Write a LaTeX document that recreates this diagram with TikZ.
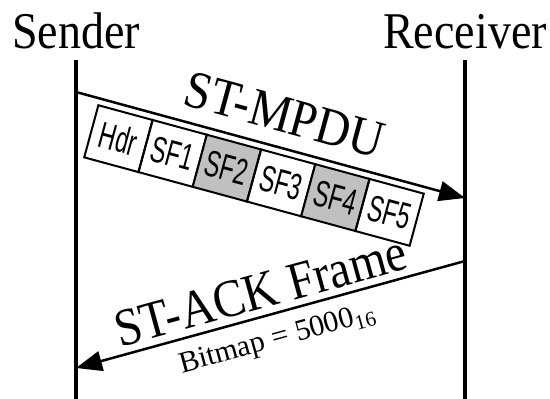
\documentclass[tikz,border=0pt]{standalone}
\usepackage{fontspec}
\usepackage{graphicx}
\setmainfont{Liberation Serif}
\newfontfamily\cellfont{Liberation Sans}
\usetikzlibrary{arrows.meta}
\definecolor{cellgray}{RGB}{192,192,192}
\newcommand{\tall}[1]{\scalebox{1}[1.12]{#1}}
\newcommand{\narrow}[1]{\scalebox{0.63}[1]{#1}}
\begin{document}
\begin{tikzpicture}[x=1pt,y=-1pt,
  lifeline/.style={line width=3.5pt},
  msg/.style={line width=2.5pt,-{Triangle[length=26pt,width=20pt]}},
  lbl/.style={font=\fontsize{46}{46}\selectfont, inner sep=0pt},
  mlbl/.style={font=\fontsize{47.5}{47.5}\selectfont, inner sep=0pt},
  small/.style={font=\fontsize{30}{30}\selectfont, inner sep=0pt},
  cell/.style={draw, line width=2pt, minimum width=56.2pt, minimum height=54pt,
    inner sep=0pt, transform shape, font=\cellfont\fontsize{37}{37}\selectfont},
  shaded/.style={fill=cellgray}]
\useasboundingbox (0,0) rectangle (550,399);
% participants
\node[lbl, anchor=base] (sender) at (76,48) {\tall{Sender}};
\node[lbl, anchor=base] (receiver) at (465,48) {\tall{Receiver}};
\coordinate (stop) at (76,60);
\coordinate (sbot) at (76,399);
\coordinate (rtop) at (465,60);
\coordinate (rbot) at (465,399);
\draw[lifeline] (stop) -- (sbot);
\draw[lifeline] (rtop) -- (rbot);
% message endpoints
\coordinate (s1) at (76,92);
\coordinate (r1) at (465,198);
\coordinate (r2) at (465,261);
\coordinate (s2) at (76,368);
\draw[msg] (s1) -- node[mlbl, sloped, above=14pt, pos=0.514] (mpdu) {\tall{ST-MPDU}} (r1);
\draw[msg] (r2) -- node[mlbl, sloped, above=6pt, pos=0.508] (ack) {\tall{ST-ACK Frame}}
  node[small, sloped, below=12pt, pos=0.5] (bmp) {Bitmap = 5000\textsubscript{16}} (s2);
% frame
\begin{scope}[shift={(254,175.5)}, rotate=-15.2]
  \node[cell] (hdr) at (-140.5,0) {\narrow{Hdr}};
  \node[cell] (sf1) at (-84.3,0) {\narrow{SF1}};
  \node[cell, shaded] (sf2) at (-28.1,0) {\narrow{SF2}};
  \node[cell] (sf3) at (28.1,0) {\narrow{SF3}};
  \node[cell, shaded] (sf4) at (84.3,0) {\narrow{SF4}};
  \node[cell] (sf5) at (140.5,0) {\narrow{SF5}};
\end{scope}
\end{tikzpicture}
\end{document}
